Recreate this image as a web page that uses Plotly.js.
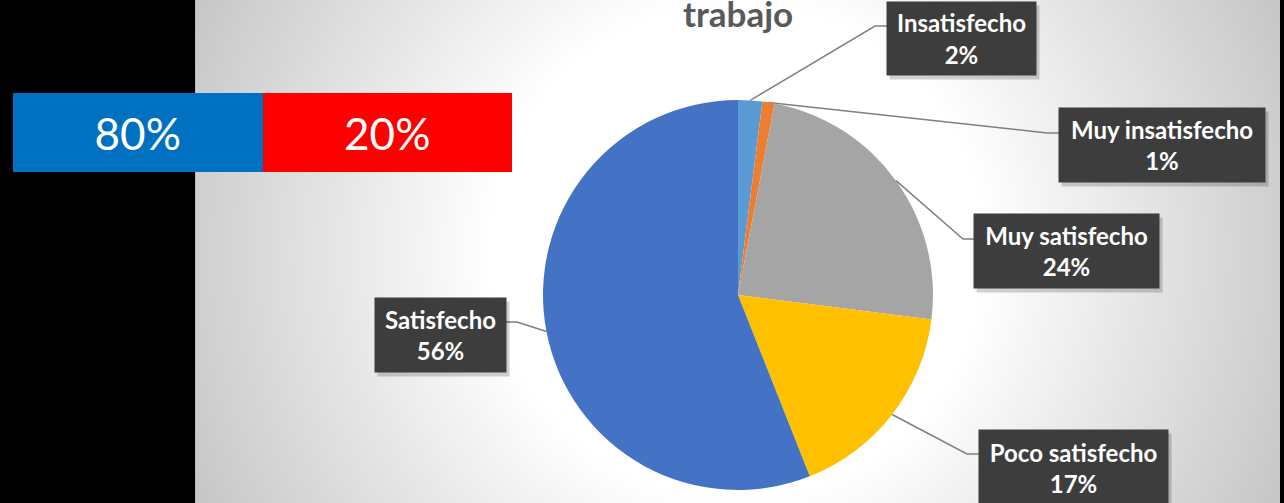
<!DOCTYPE html>
<html>
<head>
<meta charset="utf-8">
<script src="https://cdn.plot.ly/plotly-3.0.1.min.js"></script>
<style>
  html, body { margin: 0; padding: 0; background: #000; }
  #chart {
    width: 1284px; height: 503px;
    background:
      linear-gradient(to right, #000 0px, #000 195px, #b8b8b8 195px, #b8b8b8 196px, transparent 196px, transparent 1280px, #000 1280px),
      radial-gradient(circle 598px at 737px 251px, #ffffff 0px, #ffffff 245px, #c6c6c6 598px);
  }
</style>
</head>
<body>
<div id="chart"></div>
<script>
// ---------- data ----------
const categories = ['Insatisfecho', 'Muy insatisfecho', 'Muy satisfecho', 'Poco satisfecho', 'Satisfecho'];
const percentages = [2, 1, 24, 17, 56];
const titleText = 'trabajo';
const summaryShares = [80, 20];

// ---------- styles ----------
const sliceColors = ['#5B9BD5', '#ED7D31', '#A5A5A5', '#FFC000', '#4472C4'];
const summaryColors = ['#0070C0', '#FF0000'];

// ---------- layout geometry (pixels) ----------
const W = 1284, H = 503;
const pieBox = {x0: 543, x1: 933, y0: 100, y1: 490};
// label boxes: [left, top, width, height] and bend point of leader line
const labelBoxes = [
  {l: 887, t: 2, w: 149, h: 73, bend: [875, 26], side: 'left'},
  {l: 1059, t: 108, w: 206, h: 74, bend: [1047, 133], side: 'left'},
  {l: 974, t: 214, w: 185, h: 74, bend: [963, 239], side: 'left'},
  {l: 979, t: 430, w: 189, h: 76, bend: [967, 454], side: 'left'},
  {l: 375, t: 298, w: 131, h: 74, bend: [517, 322], side: 'right'}
];

// pie geometry derived from its domain
const pcx = (pieBox.x0 + pieBox.x1) / 2;
const pcy = (pieBox.y0 + pieBox.y1) / 2;
const pr = Math.min(pieBox.x1 - pieBox.x0, pieBox.y1 - pieBox.y0) / 2;
const total = percentages.reduce((a, b) => a + b, 0);

const traces = [];

// summary strip
traces.push({
  type: 'bar',
  x: summaryShares.map(v => v + '%'),
  y: summaryShares.map(() => 1),
  text: summaryShares.map(v => v + '%'),
  texttemplate: '%{text}',
  textposition: 'inside',
  insidetextanchor: 'middle',
  textfont: {family: 'Lato, "Open Sans", sans-serif', size: 44, color: '#ffffff'},
  marker: {color: summaryColors, line: {width: 0}},
  hoverinfo: 'skip',
  xaxis: 'x', yaxis: 'y',
  showlegend: false
});

// leader lines
let cum = 0;
const annotations = [];
percentages.forEach((v, i) => {
  const mid = (cum + v / 2) / total * 2 * Math.PI;
  cum += v;
  const px = pcx + pr * Math.sin(mid);
  const py = pcy - pr * Math.cos(mid);
  const b = labelBoxes[i];
  const ex = b.side === 'left' ? b.l : b.l + b.w;
  traces.push({
    type: 'scatter', mode: 'lines',
    x: [px, b.bend[0], ex], y: [py, b.bend[1], b.bend[1]],
    line: {color: '#7f7f7f', width: 1.5},
    hoverinfo: 'skip', showlegend: false,
    xaxis: 'x2', yaxis: 'y2'
  });
  // shadow
  annotations.push({
    xref: 'x2', yref: 'y2', x: b.l + b.w / 2 + 3, y: b.t + b.h / 2 + 4,
    text: '', showarrow: false, width: b.w, height: b.h, borderpad: 0,
    bgcolor: 'rgba(0,0,0,0.18)'
  });
});

percentages.forEach((v, i) => {
  const b = labelBoxes[i];
  annotations.push({
    xref: 'x2', yref: 'y2', x: b.l + b.w / 2, y: b.t + b.h / 2,
    text: '<b>' + categories[i] + '</b><br><b>' + v + '%</b>',
    showarrow: false, width: b.w, height: b.h, borderpad: 0,
    bgcolor: '#3d3d3d', align: 'center', valign: 'middle',
    font: {family: 'Lato, "Open Sans", sans-serif', size: 24, color: '#ffffff'}
  });
});

annotations.push({
  xref: 'x2', yref: 'y2', x: pcx, y: 13, xanchor: 'center', yanchor: 'middle',
  text: '<b>' + titleText + '</b>', showarrow: false,
  font: {family: 'Lato, "Open Sans", sans-serif', size: 35, color: '#595959'}
});

// pie
traces.push({
  type: 'pie',
  labels: categories,
  values: percentages,
  sort: false,
  direction: 'clockwise',
  rotation: 0,
  textinfo: 'none',
  hoverinfo: 'label+percent',
  marker: {colors: sliceColors, line: {width: 0}},
  domain: {x: [pieBox.x0 / W, pieBox.x1 / W], y: [1 - pieBox.y1 / H, 1 - pieBox.y0 / H]},
  showlegend: false
});

const layout = {
  width: W, height: H,
  margin: {l: 0, r: 0, t: 0, b: 0, pad: 0},
  paper_bgcolor: 'rgba(0,0,0,0)',
  plot_bgcolor: 'rgba(0,0,0,0)',
  showlegend: false,
  bargap: 0,
  xaxis: {domain: [13 / W, 512 / W], anchor: 'y', type: 'category', visible: false, fixedrange: true},
  yaxis: {domain: [1 - 172 / H, 1 - 93 / H], anchor: 'x', range: [0, 1], visible: false, fixedrange: true},
  xaxis2: {domain: [0, 1], anchor: 'y2', range: [0, W], visible: false, fixedrange: true},
  yaxis2: {domain: [0, 1], anchor: 'x2', range: [H, 0], visible: false, fixedrange: true},
  annotations: annotations
};

Plotly.newPlot('chart', traces, layout, {displayModeBar: false, staticPlot: true});
</script>
</body>
</html>
